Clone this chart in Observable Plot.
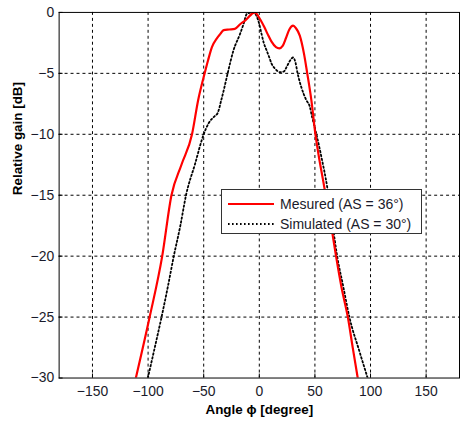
<!DOCTYPE html>
<html>
<head>
<meta charset="utf-8">
<script src="https://cdn.jsdelivr.net/npm/d3@7"></script>
<script src="https://cdn.jsdelivr.net/npm/@observablehq/plot@0.6"></script>
<style>
  html, body { margin: 0; padding: 0; background: #fff; overflow: hidden; }
  #wrap { position: relative; width: 460px; height: 425px; overflow: hidden; font-family: "Liberation Sans", Arial, sans-serif; }
  #legend { position: absolute; left: 221px; top: 189px; width: 201px; height: 45px; box-sizing: border-box; border: 1px solid #333; background: #fff; font-size: 14px; color: #1a1a2a; }
  #legend .row { position: absolute; left: 6px; height: 16px; display: flex; align-items: center; white-space: nowrap; }
  #legend svg { margin-right: 6px; }
</style>
</head>
<body>
<div id="wrap"></div>
<script>
// Measured (AS = 36°)
const measuredAngle = [-111, -98.6, -87.3, -79, -70, -60.5, -55, -49, -46, -42.6, -38, -35, -32, -27, -22, -17, -12.8, -7, -4, -1, 1.5, 4.5, 7.4, 11, 15, 18, 21, 24, 27, 30.4, 33, 36.4, 40.2, 43, 46.8, 50.3, 53.5, 57.2, 62, 66, 69, 74, 79.6, 84, 88.5];
const measuredGain  = [-30, -25, -20, -15, -12.5, -10, -7.2, -4.94, -3.9, -2.85, -2.1, -1.76, -1.45, -1.4, -1.35, -0.95, -0.67, -0.15, 0, -0.3, -0.68, -1.2, -1.76, -2.4, -2.85, -2.95, -2.75, -2.1, -1.4, -1.08, -1.3, -1.9, -3.4, -4.94, -7.2, -9.9, -11.8, -13.7, -16.2, -18.3, -20, -22.6, -25, -27.5, -30];
// Simulated (AS = 30°)
const simulatedAngle = [-100.2, -94, -87.9, -82, -76.9, -71, -65.9, -58, -50, -45.6, -40, -37.5, -34.2, -31, -28.3, -23.2, -17.3, -14, -11.3, -8, -5.4, -3, -0.9, 2, 4, 6.5, 9, 11, 14, 18.5, 22, 25, 28, 30.4, 32.5, 34.3, 38, 42.3, 45.3, 47.5, 51.2, 55.7, 61, 66, 70, 75.5, 81, 90, 97.4];
const simulatedGain  = [-30, -27.5, -25, -22.4, -20, -17.5, -15, -12.5, -10, -9.1, -8.5, -8.27, -7.2, -6, -4.94, -3.1, -1.76, -0.9, -0.13, -0.02, 0, -0.2, -0.68, -1.76, -2.5, -3.1, -3.7, -4.2, -4.6, -4.9, -4.85, -4.4, -3.9, -3.7, -4.1, -4.94, -6.2, -7.2, -7.7, -8.6, -9.94, -11.8, -14.3, -17.5, -20, -22.5, -25, -27.8, -30];

const xTicks = [-150, -100, -50, 0, 50, 100, 150];
const yTicks = [-30, -25, -20, -15, -10, -5, 0];
const xGrid = [-150, -100, -50, 0, 50, 100, 150];
const yGrid = [-25, -20, -15, -10, -5];
const seriesNames = ["Mesured (AS = 36°)", "Simulated (AS = 30°)"];
const xLabel = "Angle ϕ [degree]";
const yLabel = "Relative gain [dB]";

const measured = measuredAngle.map((a, i) => ({angle: a, gain: measuredGain[i]}));
const simulated = simulatedAngle.map((a, i) => ({angle: a, gain: simulatedGain[i]}));

const chart = Plot.plot({
  width: 463,
  height: 425,
  marginLeft: 59,
  marginRight: 1,
  marginTop: 12,
  marginBottom: 45,
  style: {fontFamily: "'Liberation Sans', Arial, sans-serif", fontSize: "14px", color: "#1a1a2a", background: "transparent"},
  x: {domain: [-180, 180]},
  y: {domain: [-30, 0]},
  marks: [
    Plot.gridX(xGrid, {stroke: "#000", strokeOpacity: 1, strokeDasharray: "3,3", strokeWidth: 1}),
    Plot.gridY(yGrid, {stroke: "#000", strokeOpacity: 1, strokeDasharray: "3,3", strokeWidth: 1}),
    Plot.axisX(xTicks, {tickSize: 0, tickPadding: 8, fontSize: 14, label: null}),
    Plot.axisY(yTicks, {tickSize: 0, tickPadding: 5, fontSize: 14, label: null}),
    Plot.axisY(yTicks, {tickSize: -4, tickFormat: () => "", label: null, stroke: "#000"}),
    Plot.axisX(xTicks, {tickSize: -4, tickFormat: () => "", label: null, stroke: "#000"}),
    Plot.line(simulated, {x: "angle", y: "gain", stroke: "#000", strokeWidth: 1.8, strokeDasharray: "1.6,2.4", curve: "monotone-x", clip: true}),
    Plot.line(measured, {x: "angle", y: "gain", stroke: "#ff0000", strokeWidth: 2.2, curve: "monotone-x", clip: true}),
    Plot.frame({stroke: "#000", strokeWidth: 1}),
    Plot.text([xLabel], {frameAnchor: "bottom", dy: 36, fontWeight: "bold", fontSize: 13.5, fill: "#000"}),
    Plot.text([yLabel], {frameAnchor: "left", dx: -42, rotate: -90, fontWeight: "bold", fontSize: 13.5, fill: "#000"})
  ]
});

const wrap = document.getElementById("wrap");
wrap.appendChild(chart);

const legend = document.createElement("div");
legend.id = "legend";
const styles = [{stroke: "#ff0000", dash: null, width: 2.2}, {stroke: "#000", dash: "1.6,2.4", width: 1.8}];
seriesNames.forEach((name, i) => {
  const row = document.createElement("div");
  row.className = "row";
  row.style.top = (6 + i * 20) + "px";
  const s = styles[i];
  row.innerHTML = `<svg width="46" height="6"><line x1="0" x2="46" y1="3" y2="3" stroke="${s.stroke}" stroke-width="${s.width}" ${s.dash ? `stroke-dasharray="${s.dash}"` : ""}/></svg><span>${name}</span>`;
  legend.appendChild(row);
});
wrap.appendChild(legend);
</script>
</body>
</html>
